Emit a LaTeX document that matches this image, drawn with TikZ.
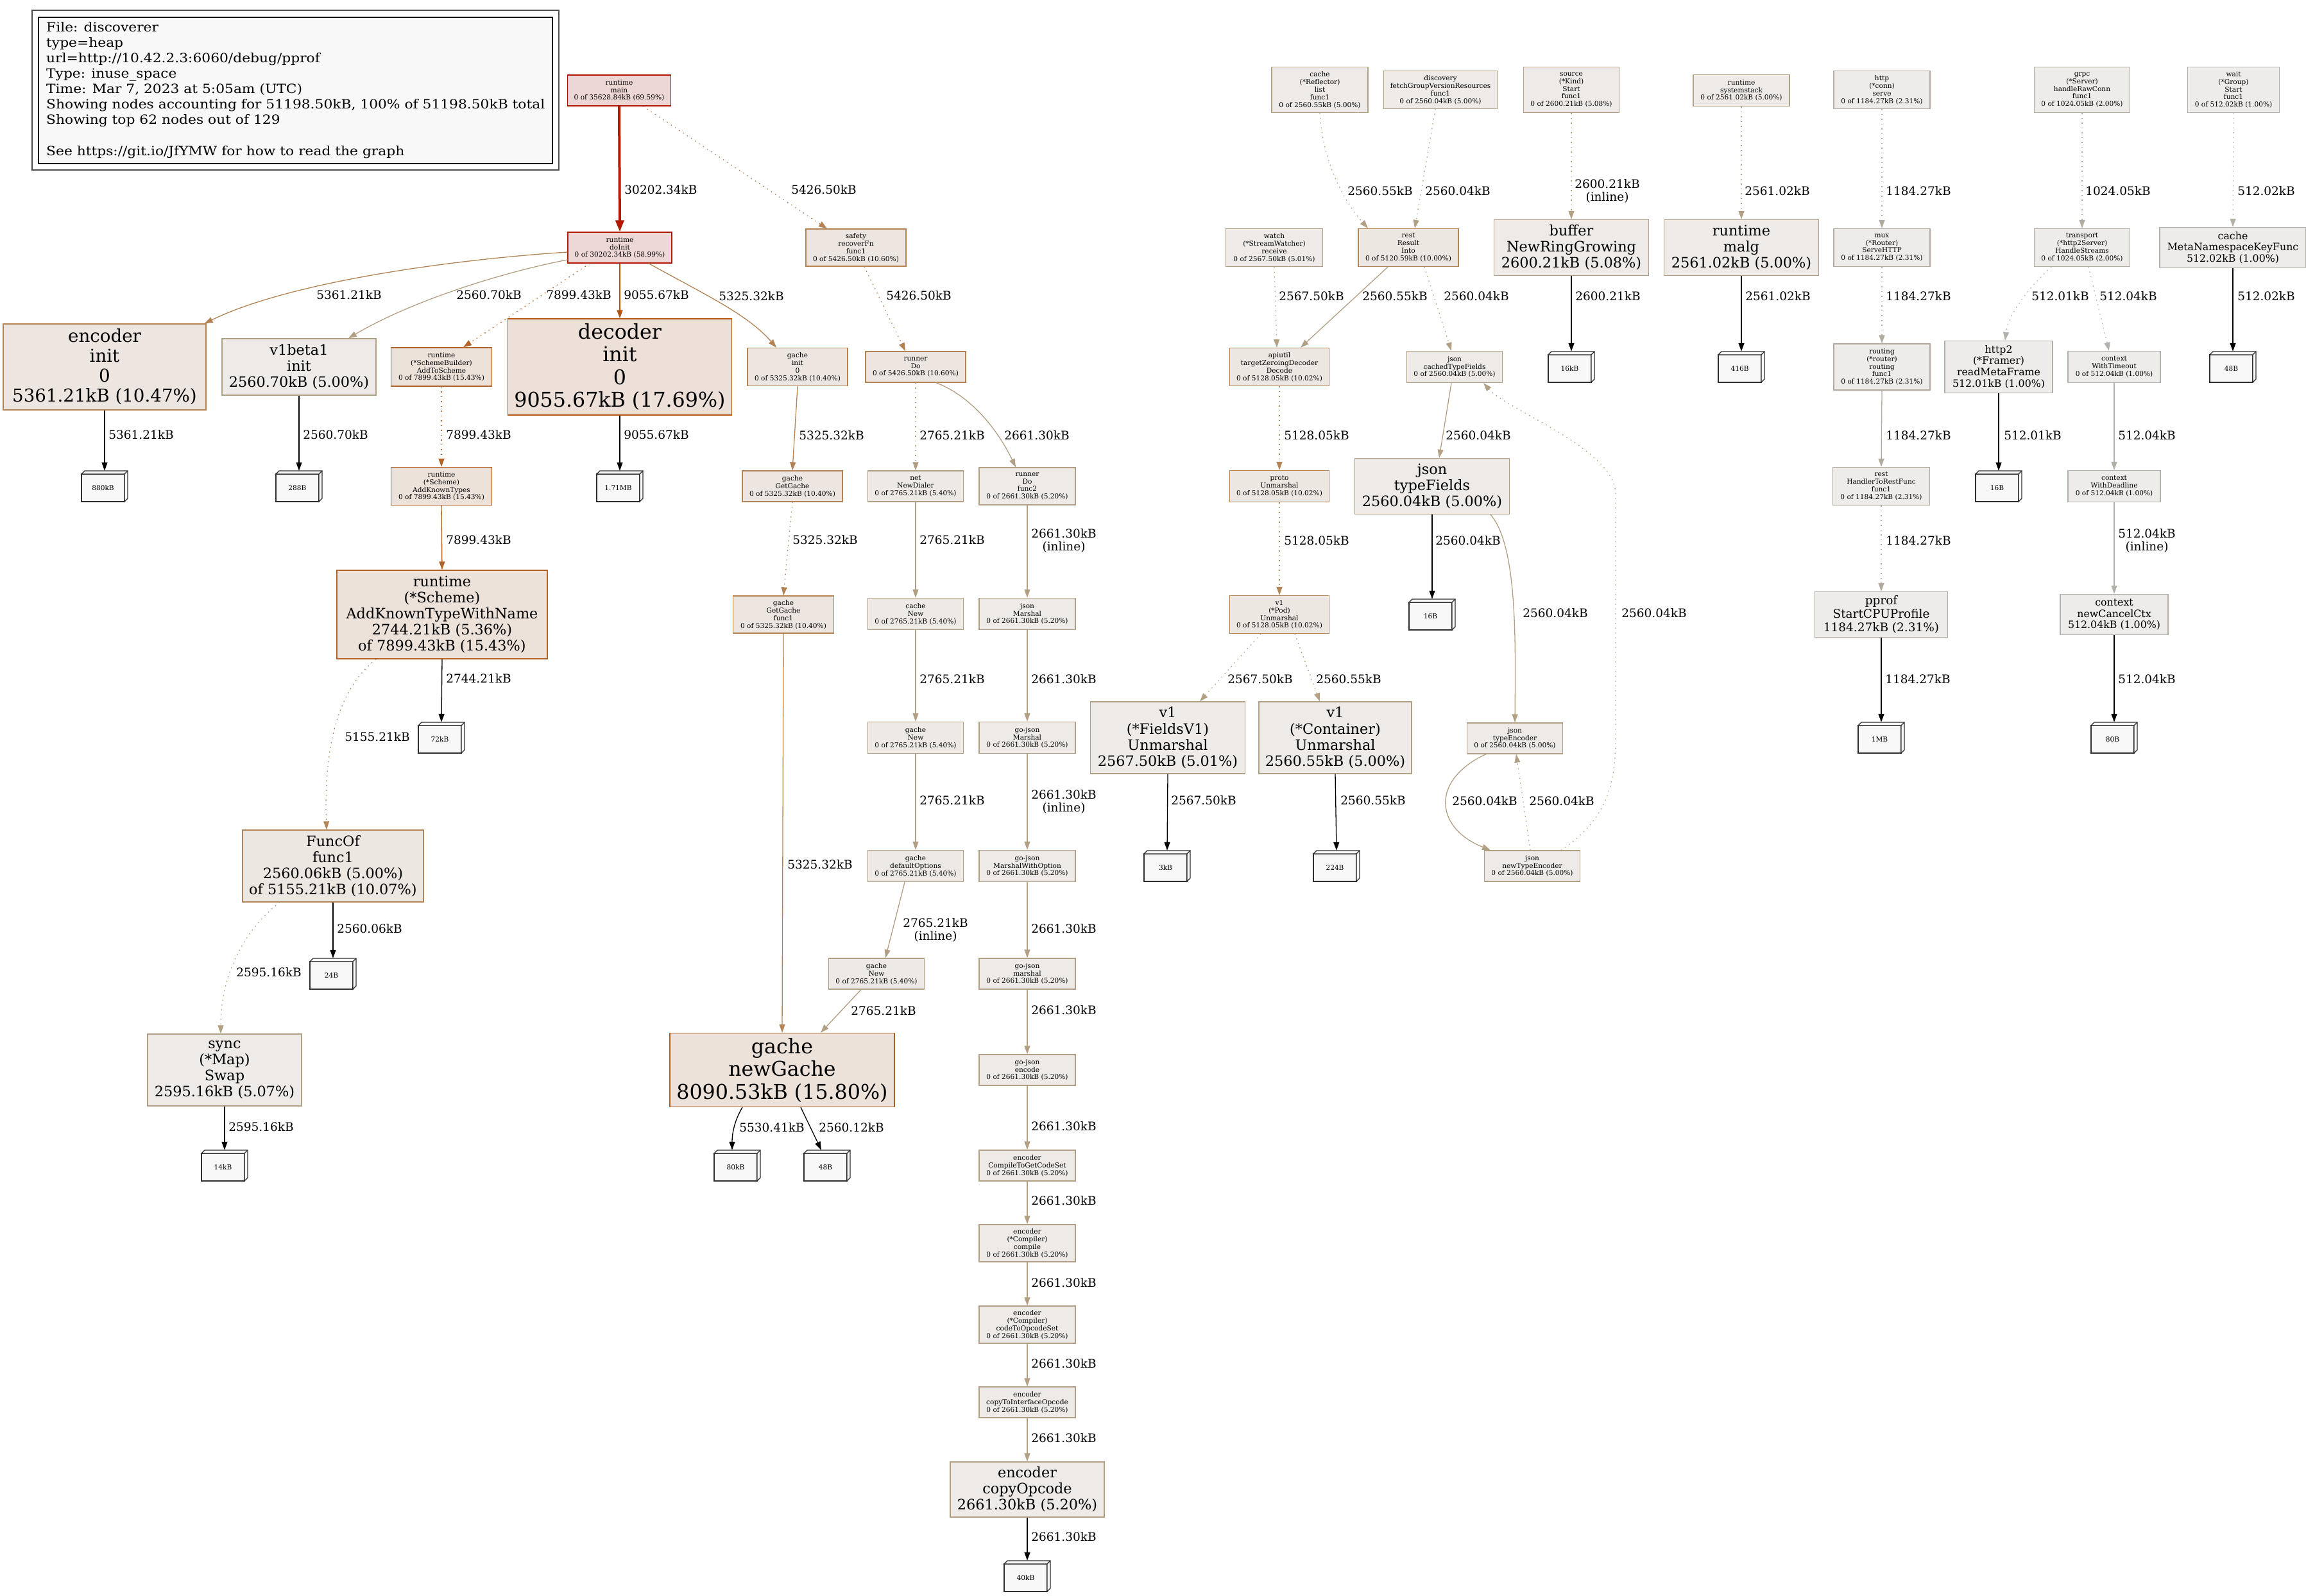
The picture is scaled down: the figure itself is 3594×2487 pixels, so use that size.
\documentclass[tikz,border=0pt]{standalone}
\usepackage{fontspec}
\setmainfont{DejaVu Serif}
\usetikzlibrary{arrows.meta}
\definecolor{cMainF}{HTML}{EDD7D5}\definecolor{cMainB}{HTML}{B21200}
\definecolor{cDoF}{HTML}{EDD8D5}\definecolor{cDoB}{HTML}{B21A00}
\definecolor{cDecF}{HTML}{EDE0D8}\definecolor{cDecB}{HTML}{B25414}
\definecolor{cNgF}{HTML}{EDE2DA}\definecolor{cNgB}{HTML}{B26125}
\definecolor{c154F}{HTML}{EDE2DA}\definecolor{c154B}{HTML}{B26328}
\definecolor{c106F}{HTML}{EDE6E0}\definecolor{c106B}{HTML}{B28253}
\definecolor{c104F}{HTML}{EDE6E0}\definecolor{c104B}{HTML}{B28355}
\definecolor{c100F}{HTML}{EDE7E1}\definecolor{c100B}{HTML}{B28559}
\definecolor{c054F}{HTML}{EDEAE6}\definecolor{c054B}{HTML}{B29E82}
\definecolor{c052F}{HTML}{EDEAE7}\definecolor{c052B}{HTML}{B29F84}
\definecolor{c050F}{HTML}{EDEAE7}\definecolor{c050B}{HTML}{B2A085}
\definecolor{c023F}{HTML}{EDECEA}\definecolor{c023B}{HTML}{B2AB9D}
\definecolor{c020F}{HTML}{EDECEA}\definecolor{c020B}{HTML}{B2ADA0}
\definecolor{c010F}{HTML}{EDECEB}\definecolor{c010B}{HTML}{B2B0A9}
\definecolor{leafgray}{HTML}{F8F8F8}
\definecolor{leafline}{HTML}{2E2E2E}
\definecolor{legendgray}{HTML}{F8F8F8}
\newcommand{\fs}[2]{\fontsize{#1}{#2}\selectfont}
\newcommand{\fA}{\fs{10.6}{11.9}}
\newcommand{\fB}{\fs{15.8}{17.7}}
\newcommand{\fC}{\fs{18.5}{20.7}}
\newcommand{\fD}{\fs{19.8}{23.6}}
\newcommand{\fE}{\fs{22.4}{25.1}}
\newcommand{\fF}{\fs{27.7}{31.0}}
\newcommand{\fG}{\fs{31.7}{35.5}}
\newcommand{\lgx}[1]{\scalebox{1.10}[1]{#1}}
\tikzset{
  pbox/.style={draw, rectangle, line width=1.3pt, inner sep=0pt, align=center},
  leafbox/.style={rectangle, inner sep=0pt, minimum width=72pt, minimum height=48pt},
  elab/.style={inner sep=0pt, align=center, font=\fC},
  edg/.style={line width=1.3pt, -{Triangle[length=13pt,width=9pt]}},
  dotline/.style={dash pattern=on 1.5pt off 6pt},
  legline/.style={anchor=base west, inner sep=0pt, font=\fD},
}
\newcommand{\pn}[9]{\node[pbox, minimum width=#4pt, minimum height=#5pt, font=#6, fill=#7, draw=#8] (#1) at (#2,#3) {#9};}
\newcommand{\leaf}[4]{%
  \node[leafbox] (#1) at (#2,#3) {};
  \draw[line width=1.2pt, draw=leafline, fill=leafgray] (#2-36,#3-19) rectangle (#2+31,#3+24);
  \draw[line width=1.2pt, draw=leafline, fill=leafgray, line join=miter] (#2-36,#3-19) -- (#2-31,#3-24) -- (#2+36,#3-24) -- (#2+36,#3+19) -- (#2+31,#3+24) -- (#2+31,#3-19) -- cycle;
  \draw[line width=1.2pt, draw=leafline] (#2+31,#3-19) -- (#2+36,#3-24);
  \node[font=\fA, inner sep=0pt] (#1t) at (#2-2.5,#3+2.5) {#4};
}
\newcommand{\lab}[4]{\node[elab] (#1) at (#2,#3) {#4};}
\begin{document}
\begin{tikzpicture}[x=1pt,y=-1pt]
\useasboundingbox (0,0) rectangle (3594,2487);
\fill[white] (0,0) rectangle (3594,2487);
% legend
\draw[line width=1.6pt, draw=black!70] (50,16) rectangle (871,265);
\node[draw=black, line width=1.3pt, fill=legendgray, minimum width=801pt, minimum height=228pt, inner sep=0pt] (legendbox) at (460.5,141) {};
\node[legline] (lg1) at (72,49) {\lgx{File: discoverer}};
\node[legline] (lg2) at (72,73) {\lgx{type=heap}};
\node[legline] (lg3) at (72,97) {\lgx{url=http://10.42.2.3:6060/debug/pprof}};
\node[legline] (lg4) at (72,121) {\lgx{Type: inuse\_space}};
\node[legline] (lg5) at (72,145) {\lgx{Time: Mar 7, 2023 at 5:05am (UTC)}};
\node[legline] (lg6) at (72,169) {\lgx{Showing nodes accounting for 51198.50kB, 100\% of 51198.50kB total}};
\node[legline] (lg7) at (72,193) {\lgx{Showing top 62 nodes out of 129}};
\node[legline] (lg8) at (72,242) {\lgx{See https://git.io/JfYMW for how to read the graph}};
% nodes left
\pn{nmain}{965}{141}{161}{48}{\fA}{cMainF}{cMainB}{runtime\\main\\0 of 35628.84kB (69.59\%)}
\pn{ndoinit}{966}{386}{162}{48}{\fA}{cDoF}{cDoB}{runtime\\doInit\\0 of 30202.34kB (58.99\%)}
\pn{nsafety}{1334}{386}{156}{58}{\fA}{c106F}{c106B}{safety\\recoverFn\\func1\\0 of 5426.50kB (10.60\%)}
\pn{nencinit}{163}{572}{316}{134}{\fF}{c104F}{c104B}{encoder\\init\\0\\5361.21kB (10.47\%)}
\pn{nv1beta1}{466}{572}{240}{88}{\fE}{c050F}{c050B}{v1beta1\\init\\2560.70kB (5.00\%)}
\pn{nsb}{688}{572}{157}{60}{\fA}{c154F}{c154B}{runtime\\(*SchemeBuilder)\\AddToScheme\\0 of 7899.43kB (15.43\%)}
\pn{ndecoder}{966}{572}{349}{150}{\fG}{cDecF}{cDecB}{decoder\\init\\0\\9055.67kB (17.69\%)}
\pn{ngacheinit}{1243}{572}{156}{59}{\fA}{c104F}{c104B}{gache\\init\\0\\0 of 5325.32kB (10.40\%)}
\pn{nrunnerdo}{1427}{572}{156}{48}{\fA}{c106F}{c106B}{runner\\Do\\0 of 5426.50kB (10.60\%)}
\pn{nakt}{688}{758}{157}{59}{\fA}{c154F}{c154B}{runtime\\(*Scheme)\\AddKnownTypes\\0 of 7899.43kB (15.43\%)}
\pn{ngetgache}{1235}{758}{156}{48}{\fA}{c104F}{c104B}{gache\\GetGache\\0 of 5325.32kB (10.40\%)}
\pn{ndialer}{1427}{758}{149}{48}{\fA}{c054F}{c054B}{net\\NewDialer\\0 of 2765.21kB (5.40\%)}
\pn{nfunc2}{1601}{758}{150}{58}{\fA}{c052F}{c052B}{runner\\Do\\func2\\0 of 2661.30kB (5.20\%)}
\pn{naktwn}{689}{958}{328}{138}{\fE}{c154F}{c154B}{runtime\\(*Scheme)\\AddKnownTypeWithName\\2744.21kB (5.36\%)\\of 7899.43kB (15.43\%)}
\pn{ngfunc1}{1221}{958}{157}{58}{\fA}{c104F}{c104B}{gache\\GetGache\\func1\\0 of 5325.32kB (10.40\%)}
\pn{ncachenew}{1427}{957}{149}{49}{\fA}{c054F}{c054B}{cache\\New\\0 of 2765.21kB (5.40\%)}
\pn{njmarshal}{1601}{957}{150}{49}{\fA}{c052F}{c052B}{json\\Marshal\\0 of 2661.30kB (5.20\%)}
\pn{ngachenew}{1427}{1150}{149}{49}{\fA}{c054F}{c054B}{gache\\New\\0 of 2765.21kB (5.40\%)}
\pn{ngjm}{1601}{1150}{150}{49}{\fA}{c052F}{c052B}{go-json\\Marshal\\0 of 2661.30kB (5.20\%)}
\pn{nfuncof}{519}{1350}{282}{112}{\fE}{c100F}{c100B}{FuncOf\\func1\\2560.06kB (5.00\%)\\of 5155.21kB (10.07\%)}
\pn{ndefopt}{1427}{1350}{149}{49}{\fA}{c054F}{c054B}{gache\\defaultOptions\\0 of 2765.21kB (5.40\%)}
\pn{nmwo}{1601}{1350}{150}{49}{\fA}{c052F}{c052B}{go-json\\MarshalWithOption\\0 of 2661.30kB (5.20\%)}
\pn{ngachenewb}{1366}{1518}{149}{48}{\fA}{c054F}{c054B}{gache\\New\\0 of 2765.21kB (5.40\%)}
\pn{ngjmb}{1601}{1518}{150}{48}{\fA}{c052F}{c052B}{go-json\\marshal\\0 of 2661.30kB (5.20\%)}
\pn{nswap}{350}{1668}{240}{112}{\fE}{c050F}{c050B}{sync\\(*Map)\\Swap\\2595.16kB (5.07\%)}
\pn{nnewgache}{1219}{1668}{350}{115}{\fG}{cNgF}{cNgB}{gache\\newGache\\8090.53kB (15.80\%)}
\pn{nencode}{1601}{1668}{150}{48}{\fA}{c052F}{c052B}{go-json\\encode\\0 of 2661.30kB (5.20\%)}
\pn{nctgcs}{1601}{1817}{150}{48}{\fA}{c052F}{c052B}{encoder\\CompileToGetCodeSet\\0 of 2661.30kB (5.20\%)}
\pn{ncompile}{1601}{1938}{150}{58}{\fA}{c052F}{c052B}{encoder\\(*Compiler)\\compile\\0 of 2661.30kB (5.20\%)}
\pn{nctos}{1601}{2065}{150}{58}{\fA}{c052F}{c052B}{encoder\\(*Compiler)\\codeToOpcodeSet\\0 of 2661.30kB (5.20\%)}
\pn{nctio}{1601}{2186}{150}{48}{\fA}{c052F}{c052B}{encoder\\copyToInterfaceOpcode\\0 of 2661.30kB (5.20\%)}
\pn{ncopyop}{1601}{2322}{240}{86}{\fE}{c052F}{c052B}{encoder\\copyOpcode\\2661.30kB (5.20\%)}
% nodes right
\pn{nreflector}{2057}{140}{150}{71}{\fA}{c050F}{c050B}{cache\\(*Reflector)\\list\\func1\\0 of 2560.55kB (5.00\%)}
\pn{ndiscovery}{2245}{140}{177}{59}{\fA}{c050F}{c050B}{discovery\\fetchGroupVersionResources\\func1\\0 of 2560.04kB (5.00\%)}
\pn{nsource}{2449}{140}{149}{71}{\fA}{c052F}{c052B}{source\\(*Kind)\\Start\\func1\\0 of 2600.21kB (5.08\%)}
\pn{nsysstack}{2714}{141}{150}{49}{\fA}{c050F}{c050B}{runtime\\systemstack\\0 of 2561.02kB (5.00\%)}
\pn{nhttp}{2933}{140}{150}{59}{\fA}{c023F}{c023B}{http\\(*conn)\\serve\\0 of 1184.27kB (2.31\%)}
\pn{ngrpc}{3245}{140}{149}{71}{\fA}{c020F}{c020B}{grpc\\(*Server)\\handleRawConn\\func1\\0 of 1024.05kB (2.00\%)}
\pn{nwait}{3481}{140}{143}{71}{\fA}{c010F}{c010B}{wait\\(*Group)\\Start\\func1\\0 of 512.02kB (1.00\%)}
\pn{nwatch}{1986}{386}{151}{59}{\fA}{c050F}{c050B}{watch\\(*StreamWatcher)\\receive\\0 of 2567.50kB (5.01\%)}
\pn{ninto}{2195}{386}{156}{59}{\fA}{c100F}{c100B}{rest\\Result\\Into\\0 of 5120.59kB (10.00\%)}
\pn{nbuffer}{2449}{386}{241}{87}{\fE}{c052F}{c052B}{buffer\\NewRingGrowing\\2600.21kB (5.08\%)}
\pn{nmalg}{2714}{386}{241}{87}{\fE}{c050F}{c050B}{runtime\\malg\\2561.02kB (5.00\%)}
\pn{nmux}{2933}{386}{150}{59}{\fA}{c023F}{c023B}{mux\\(*Router)\\ServeHTTP\\0 of 1184.27kB (2.31\%)}
\pn{ntransport}{3245}{386}{149}{59}{\fA}{c020F}{c020B}{transport\\(*http2Server)\\HandleStreams\\0 of 1024.05kB (2.00\%)}
\pn{ncachemeta}{3480}{386}{228}{63}{\fB}{c010F}{c010B}{cache\\MetaNamespaceKeyFunc\\512.02kB (1.00\%)}
\pn{napiutil}{1994}{572}{155}{59}{\fA}{c100F}{c100B}{apiutil\\targetZeroingDecoder\\Decode\\0 of 5128.05kB (10.02\%)}
\pn{nctf}{2267}{572}{149}{49}{\fA}{c050F}{c050B}{json\\cachedTypeFields\\0 of 2560.04kB (5.00\%)}
\pn{nrouting}{2933}{572}{150}{72}{\fA}{c023F}{c023B}{routing\\(*router)\\routing\\func1\\0 of 1184.27kB (2.31\%)}
\pn{nhttp2}{3115}{572}{168}{81}{\fB}{c010F}{c010B}{http2\\(*Framer)\\readMetaFrame\\512.01kB (1.00\%)}
\pn{nwto}{3295}{572}{144}{49}{\fA}{c010F}{c010B}{context\\WithTimeout\\0 of 512.04kB (1.00\%)}
\pn{nproto}{1994}{758}{155}{49}{\fA}{c100F}{c100B}{proto\\Unmarshal\\0 of 5128.05kB (10.02\%)}
\pn{ntypefields}{2232}{758}{241}{87}{\fE}{c050F}{c050B}{json\\typeFields\\2560.04kB (5.00\%)}
\pn{nh2r}{2932}{758}{151}{59}{\fA}{c023F}{c023B}{rest\\HandlerToRestFunc\\func1\\0 of 1184.27kB (2.31\%)}
\pn{nwdl}{3295}{758}{144}{49}{\fA}{c010F}{c010B}{context\\WithDeadline\\0 of 512.04kB (1.00\%)}
\pn{npod}{1994}{958}{155}{59}{\fA}{c100F}{c100B}{v1\\(*Pod)\\Unmarshal\\0 of 5128.05kB (10.02\%)}
\pn{npprof}{2932}{958}{207}{71}{\fC}{c023F}{c023B}{pprof\\StartCPUProfile\\1184.27kB (2.31\%)}
\pn{nnewcancel}{3295}{958}{168}{63}{\fB}{c010F}{c010B}{context\\newCancelCtx\\512.04kB (1.00\%)}
\pn{nfieldsv1}{1820}{1150}{241}{112}{\fE}{c050F}{c050B}{v1\\(*FieldsV1)\\Unmarshal\\2567.50kB (5.01\%)}
\pn{ncontainer}{2081}{1150}{238}{112}{\fE}{c050F}{c050B}{v1\\(*Container)\\Unmarshal\\2560.55kB (5.00\%)}
\pn{ntypeenc}{2361}{1151}{149}{48}{\fA}{c050F}{c050B}{json\\typeEncoder\\0 of 2560.04kB (5.00\%)}
\pn{nnewtypeenc}{2388}{1350}{149}{48}{\fA}{c050F}{c050B}{json\\newTypeEncoder\\0 of 2560.04kB (5.00\%)}
% leaves
\leaf{bA}{163}{758}{880kB}
\leaf{bB}{466}{758}{288B}
\leaf{bC}{966}{758}{1.71MB}
\leaf{bD}{688}{1150}{72kB}
\leaf{bE}{519}{1518}{24B}
\leaf{bF}{350}{1817}{14kB}
\leaf{bG}{1149}{1817}{80kB}
\leaf{bH}{1289}{1817}{48B}
\leaf{bI}{1601}{2457}{40kB}
\leaf{bJ}{1819}{1350}{3kB}
\leaf{bK}{2083}{1350}{224B}
\leaf{bL}{2449}{572}{16kB}
\leaf{bM}{2714}{572}{416B}
\leaf{bN}{2232}{958}{16B}
\leaf{bO}{3115}{758}{16B}
\leaf{bP}{3480}{572}{48B}
\leaf{bQ}{2932}{1150}{1MB}
\leaf{bR}{3295}{1150}{80B}
\coordinate (cA) at (2518,1150);
\coordinate (cB) at (2518,770);
% edges left
\draw[line width=4pt, draw=cDoB, -{Triangle[length=18pt,width=13pt]}] (nmain.south) -- (ndoinit.north);
\draw[edg, dotline, draw=c106B] ([xshift=37pt]nmain.south) -- ([xshift=-45pt]nsafety.north);
\draw[edg, draw=c104B] ([yshift=-7pt]ndoinit.west) .. controls (700,405) and (450,440) .. ([xshift=-3pt]nencinit.north east);
\draw[edg, draw=c050B] ([yshift=-19pt]ndoinit.west) .. controls (780,425) and (640,470) .. ([xshift=77pt]nv1beta1.north);
\draw[edg, dotline, draw=c154B] ([xshift=-47pt]ndoinit.south) -- ([xshift=34pt]nsb.north);
\draw[edg, line width=2pt, draw=cDecB] (ndoinit.south) -- (ndecoder.north);
\draw[edg, draw=c104B] ([xshift=45pt]ndoinit.south) .. controls (1100,460) and (1165,490) .. ([xshift=-33pt]ngacheinit.north);
\draw[edg, dotline, draw=c106B] ([xshift=13pt]nsafety.south) -- ([xshift=-16pt]nrunnerdo.north);
\draw[edg, dotline, draw=c054B] (nrunnerdo.south) -- (ndialer.north);
\draw[edg, draw=c052B] ([xshift=32pt]nrunnerdo.south) .. controls (1520,620) and (1560,680) .. ([xshift=-18pt]nfunc2.north);
\draw[edg, draw=c054B] (ndialer.south) -- (ncachenew.north);
\draw[edg, draw=c054B] (ncachenew.south) -- (ngachenew.north);
\draw[edg, draw=c054B] (ngachenew.south) -- (ndefopt.north);
\draw[edg, draw=c054B] ([xshift=-17pt]ndefopt.south) -- ([xshift=14pt]ngachenewb.north);
\draw[edg, draw=c054B] ([xshift=-24pt]ngachenewb.south) -- ([xshift=60pt]nnewgache.north);
\draw[edg, draw=c052B] (nfunc2.south) -- (njmarshal.north);
\draw[edg, draw=c052B] (njmarshal.south) -- (ngjm.north);
\draw[edg, draw=c052B] (ngjm.south) -- (nmwo.north);
\draw[edg, draw=c052B] (nmwo.south) -- (ngjmb.north);
\draw[edg, draw=c052B] (ngjmb.south) -- (nencode.north);
\draw[edg, draw=c052B] (nencode.south) -- (nctgcs.north);
\draw[edg, draw=c052B] (nctgcs.south) -- (ncompile.north);
\draw[edg, draw=c052B] (ncompile.south) -- (nctos.north);
\draw[edg, draw=c052B] (nctos.south) -- (nctio.north);
\draw[edg, draw=c052B] (nctio.south) -- (ncopyop.north);
\draw[edg, draw=c104B] (ngacheinit.south) -- (ngetgache.north);
\draw[edg, dotline, draw=c104B] (ngetgache.south) -- (ngfunc1.north);
\draw[edg, draw=c104B] (ngfunc1.south) -- (nnewgache.north);
\draw[edg, dotline, draw=c154B] (nsb.south) -- (nakt.north);
\draw[edg, draw=c154B] (nakt.south) -- (naktwn.north);
\draw[edg, dotline, draw=c100B] ([xshift=-103pt]naktwn.south) .. controls (520,1080) and (505,1180) .. ([xshift=-10pt]nfuncof.north);
\draw[edg, dotline, draw=c050B] ([xshift=-83pt]nfuncof.south) .. controls (380,1450) and (344,1520) .. ([xshift=-6pt]nswap.north);
% leaf edges
\draw[edg, draw=black] (nencinit.south) -- (bA.north);
\draw[edg, draw=black] (nv1beta1.south) -- (bB.north);
\draw[edg, draw=black] (ndecoder.south) -- (bC.north);
\draw[edg, draw=black] (naktwn.south) -- (bD.north);
\draw[edg, draw=black] (nfuncof.south) -- (bE.north);
\draw[edg, draw=black] (nswap.south) -- (bF.north);
\draw[edg, draw=black] ([xshift=-62pt]nnewgache.south) .. controls (1143,1750) and (1141,1770) .. ([xshift=-8pt]bG.north);
\draw[edg, draw=black] ([xshift=29pt]nnewgache.south) -- ([xshift=-9pt]bH.north);
\draw[edg, draw=black] (ncopyop.south) -- (bI.north);
\draw[edg, draw=black] (nfieldsv1.south) -- (bJ.north);
\draw[edg, draw=black] (ncontainer.south) -- (bK.north);
\draw[edg, draw=black] (nbuffer.south) -- (bL.north);
\draw[edg, draw=black] (nmalg.south) -- (bM.north);
\draw[edg, draw=black] (ntypefields.south) -- (bN.north);
\draw[edg, draw=black] (nhttp2.south) -- (bO.north);
\draw[edg, draw=black] (ncachemeta.south) -- (bP.north);
\draw[edg, draw=black] (npprof.south) -- (bQ.north);
\draw[edg, draw=black] (nnewcancel.south) -- (bR.north);
% edges right
\draw[edg, dotline, draw=c050B] (nreflector.south) .. controls (2062,260) and (2100,320) .. ([xshift=-63pt]ninto.north);
\draw[edg, dotline, draw=c050B] ([xshift=-8pt]ndiscovery.south) -- ([xshift=10pt]ninto.north);
\draw[edg, dotline, draw=c052B] (nsource.south) -- (nbuffer.north);
\draw[edg, dotline, draw=c050B] (nsysstack.south) -- (nmalg.north);
\draw[edg, dotline, draw=c023B] (nhttp.south) -- (nmux.north);
\draw[edg, dotline, draw=c020B] (ngrpc.south) -- (ntransport.north);
\draw[edg, dotline, draw=c010B] (nwait.south) -- (ncachemeta.north);
\draw[edg, dotline, draw=c050B] (nwatch.south) -- ([xshift=-4pt]napiutil.north);
\draw[edg, draw=c050B] ([xshift=-32pt]ninto.south) -- ([xshift=33pt]napiutil.north);
\draw[edg, dotline, draw=c050B] ([xshift=25pt]ninto.south) -- ([xshift=-5pt]nctf.north);
\draw[edg, dotline, draw=c100B] (napiutil.south) -- (nproto.north);
\draw[edg, dotline, draw=c100B] (nproto.south) -- (npod.north);
\draw[edg, dotline, draw=c050B] ([xshift=-29pt]npod.south) -- ([xshift=50pt]nfieldsv1.north);
\draw[edg, dotline, draw=c050B] ([xshift=24pt]npod.south) -- ([xshift=-24pt]ncontainer.north);
\draw[edg, draw=c050B] ([xshift=-5pt]nctf.south) -- ([xshift=11pt]ntypefields.north);
\draw[edg, draw=c050B] ([xshift=91pt]ntypefields.south) .. controls (2365,850) and (2362,1000) .. (ntypeenc.north);
\draw[edg, draw=c050B] ([xshift=-45pt]ntypeenc.south) .. controls (2230,1215) and (2235,1290) .. ([xshift=-65pt]nnewtypeenc.north);
\draw[edg, dotline, draw=c050B] ([xshift=-3pt]nnewtypeenc.north) -- ([xshift=2pt]ntypeenc.south);
\draw[edg, dotline, draw=c050B] ([xshift=45pt]nnewtypeenc.north) .. controls (2500,1280) and (2518,1230) .. (cA) -- (cB) .. controls (2518,700) and (2350,640) .. ([xshift=45pt]nctf.south);
\draw[edg, dotline, draw=c023B] (nmux.south) -- (nrouting.north);
\draw[edg, draw=c023B] (nrouting.south) -- (nh2r.north);
\draw[edg, dotline, draw=c023B] (nh2r.south) -- (npprof.north);
\draw[edg, dotline, draw=c010B] ([xshift=-48pt]ntransport.south) .. controls (3160,450) and (3130,490) .. ([xshift=10pt]nhttp2.north);
\draw[edg, dotline, draw=c010B] ([xshift=10pt]ntransport.south) -- ([xshift=-8pt]nwto.north);
\draw[edg, draw=c010B] (nwto.south) -- (nwdl.north);
\draw[edg, draw=c010B] (nwdl.south) -- (nnewcancel.north);
% labels left
\lab{l1}{1030}{296}{30202.34kB}
\lab{l2}{1284}{296}{5426.50kB}
\lab{l3}{544}{460}{5361.21kB}
\lab{l4}{762}{460}{2560.70kB}
\lab{l5}{902}{460}{7899.43kB}
\lab{l6}{1023}{460}{9055.67kB}
\lab{l7}{1171}{462}{5325.32kB}
\lab{l8}{1432}{461}{5426.50kB}
\lab{l9}{220}{678}{5361.21kB}
\lab{l10}{523}{678}{2560.70kB}
\lab{l11}{746}{678}{7899.43kB}
\lab{l12}{1023}{678}{9055.67kB}
\lab{l13}{1296}{679}{5325.32kB}
\lab{l14}{1484}{679}{2765.21kB}
\lab{l15}{1616}{679}{2661.30kB}
\lab{l16}{746}{842}{7899.43kB}
\lab{l17}{1286}{842}{5325.32kB}
\lab{l18}{1484}{842}{2765.21kB}
\lab{l19}{1658}{843}{2661.30kB\\(inline)}
\lab{l20}{746}{1058}{2744.21kB}
\lab{l21}{1484}{1059}{2765.21kB}
\lab{l22}{1658}{1059}{2661.30kB}
\lab{l23}{588}{1149}{5155.21kB}
\lab{l24}{1278}{1348}{5325.32kB}
\lab{l25}{1484}{1248}{2765.21kB}
\lab{l26}{1658}{1250}{2661.30kB\\(inline)}
\lab{l27}{1458}{1450}{2765.21kB\\(inline)}
\lab{l28}{576}{1448}{2560.06kB}
\lab{l29}{1658}{1448}{2661.30kB}
\lab{l30}{419}{1516}{2595.16kB}
\lab{l31}{1377}{1576}{2765.21kB}
\lab{l32}{1658}{1575}{2661.30kB}
\lab{l33}{1203}{1758}{5530.41kB}
\lab{l34}{1327}{1758}{2560.12kB}
\lab{l35}{1658}{1756}{2661.30kB}
\lab{l36}{407}{1757}{2595.16kB}
\lab{l37}{1658}{1872}{2661.30kB}
\lab{l38}{1658}{2000}{2661.30kB}
\lab{l39}{1658}{2126}{2661.30kB}
\lab{l40}{1658}{2242}{2661.30kB}
\lab{l41}{1658}{2396}{2661.30kB}
% labels right
\lab{r1}{2151}{298}{2560.55kB}
\lab{r2}{2272}{298}{2560.04kB}
\lab{r3}{2505}{298}{2600.21kB\\(inline)}
\lab{r4}{2770}{298}{2561.02kB}
\lab{r5}{2990}{298}{1184.27kB}
\lab{r6}{3301}{298}{1024.05kB}
\lab{r7}{3532}{298}{512.02kB}
\lab{r8}{2044}{462}{2567.50kB}
\lab{r9}{2174}{462}{2560.55kB}
\lab{r10}{2301}{462}{2560.04kB}
\lab{r11}{2506}{462}{2600.21kB}
\lab{r12}{2771}{462}{2561.02kB}
\lab{r13}{2990}{462}{1184.27kB}
\lab{r14}{3211}{462}{512.01kB}
\lab{r15}{3317}{462}{512.04kB}
\lab{r16}{3532}{462}{512.02kB}
\lab{r17}{2052}{679}{5128.05kB}
\lab{r18}{2304}{679}{2560.04kB}
\lab{r19}{2990}{679}{1184.27kB}
\lab{r20}{3168}{679}{512.01kB}
\lab{r21}{3346}{679}{512.04kB}
\lab{r22}{2052}{843}{5128.05kB}
\lab{r23}{2288}{843}{2560.04kB}
\lab{r24}{2990}{843}{1184.27kB}
\lab{r25}{3346}{843}{512.04kB\\(inline)}
\lab{r26}{2424}{956}{2560.04kB}
\lab{r27}{2578}{956}{2560.04kB}
\lab{r28}{1964}{1059}{2567.50kB}
\lab{r29}{2102}{1059}{2560.55kB}
\lab{r30}{2989}{1059}{1184.27kB}
\lab{r31}{3346}{1059}{512.04kB}
\lab{r32}{2314}{1249}{2560.04kB}
\lab{r33}{2434}{1249}{2560.04kB}
\lab{r34}{1876}{1248}{2567.50kB}
\lab{r35}{2140}{1248}{2560.55kB}
\end{tikzpicture}
\end{document}
